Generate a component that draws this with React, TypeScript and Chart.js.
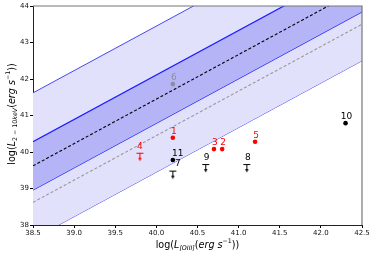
import React, { useEffect, useRef } from "react";
import { Chart, registerables } from "chart.js";

Chart.register(...registerables);

// Relation lines (endpoints at x = 38.5 and 42.5)
const lineX = [38.5, 42.5];
const relationY = [39.62, 44.5];
const innerUpperY = [40.28, 45.16];
const innerLowerY = [38.96, 43.84];
const outerUpperY = [41.62, 46.5];
const outerLowerY = [37.62, 42.5];
const altRelationY = [38.62, 43.5];

// Sources
const srcLabels = ["1", "2", "3", "4", "5", "6", "7", "8", "9", "10", "11"];
const srcX = [40.2, 40.8, 40.7, 39.8, 41.2, 40.2, 40.2, 41.1, 40.6, 42.3, 40.2];
const srcY = [40.39, 40.08, 40.08, 39.98, 40.28, 41.86, 39.49, 39.67, 39.67, 40.79, 39.78];
const srcUpperLimit = [false, false, false, true, false, false, true, true, true, false, false];
const srcGroup = ["red", "red", "red", "red", "red", "gray", "black", "black", "black", "black", "black"];

const xTickMin = 38.5;
const xTickMax = 42.5;
const xTickStep = 0.5;
const yTickMin = 38;
const yTickMax = 44;
const yTickStep = 1;

const groupColors: Record<string, string> = {
  red: "#ff0000",
  black: "#000000",
  gray: "rgba(128,128,128,0.75)",
};
const labelDx: Record<string, number> = { "7": 5, "11": 5, "4": 0 };

type Seg = { t: string; it?: boolean; s?: "sub" | "sup" };
const yTitle: Seg[] = [
  { t: "log(" },
  { t: "L", it: true },
  { t: "2 − 10", s: "sub" },
  { t: "keV", s: "sub", it: true },
  { t: "(" },
  { t: "erg s", it: true },
  { t: "−1", s: "sup" },
  { t: "))" },
];
const xTitle: Seg[] = [
  { t: "log(" },
  { t: "L", it: true },
  { t: "[OIII]", s: "sub", it: true },
  { t: "(" },
  { t: "erg s", it: true },
  { t: "−1", s: "sup" },
  { t: "))" },
];

const FAM = "'DejaVu Sans', sans-serif";

function fontFor(seg: Seg) {
  const size = seg.s ? 6.3 : 9.6;
  return `${seg.it ? "italic " : ""}${size}px ${FAM}`;
}

function drawRich(ctx: CanvasRenderingContext2D, segs: Seg[], cx: number, cy: number, rot: number) {
  ctx.save();
  ctx.translate(cx, cy);
  ctx.rotate(rot);
  let total = 0;
  const widths = segs.map((s) => {
    ctx.font = fontFor(s);
    const w = ctx.measureText(s.t).width;
    total += w;
    return w;
  });
  let x = -total / 2;
  ctx.fillStyle = "#000";
  ctx.textBaseline = "middle";
  ctx.textAlign = "left";
  segs.forEach((s, i) => {
    ctx.font = fontFor(s);
    const dy = s.s === "sub" ? 3 : s.s === "sup" ? -3.5 : 0;
    ctx.fillText(s.t, x, dy);
    x += widths[i];
  });
  ctx.restore();
}

function makeLimitMarker(color: string) {
  const c = document.createElement("canvas");
  c.width = 9;
  c.height = 20;
  const g = c.getContext("2d")!;
  g.strokeStyle = color;
  g.fillStyle = color;
  g.lineWidth = 1;
  g.beginPath();
  g.moveTo(1, 10.5);
  g.lineTo(8, 10.5);
  g.moveTo(4.5, 10.5);
  g.lineTo(4.5, 16);
  g.stroke();
  g.beginPath();
  g.moveTo(2.8, 15);
  g.lineTo(6.2, 15);
  g.lineTo(4.5, 18.5);
  g.closePath();
  g.fill();
  return c;
}

export default function App() {
  const ref = useRef<HTMLCanvasElement | null>(null);

  useEffect(() => {
    if (!ref.current) return;
    const markers: Record<string, HTMLCanvasElement> = {
      red: makeLimitMarker(groupColors.red),
      black: makeLimitMarker(groupColors.black),
      gray: makeLimitMarker(groupColors.gray),
    };
    const pts = srcX.map((x, i) => ({ x, y: srcY[i] }));
    const line = (ys: number[]) => lineX.map((x, i) => ({ x, y: ys[i] }));

    const frame = {
      id: "frame",
      afterDraw(chart: any) {
        const { ctx, chartArea: a } = chart;
        ctx.save();
        ctx.strokeStyle = "#777";
        ctx.lineWidth = 1.2;
        ctx.beginPath();
        ctx.moveTo(a.left, a.top);
        ctx.lineTo(a.right, a.top);
        ctx.lineTo(a.right, a.bottom);
        ctx.stroke();
        ctx.restore();
        drawRich(ctx, xTitle, (a.left + a.right) / 2, 245, 0);
        drawRich(ctx, yTitle, 12, 114, -Math.PI / 2);
      },
      afterDatasetsDraw(chart: any) {
        const { ctx } = chart;
        const meta = chart.getDatasetMeta(0);
        ctx.save();
        ctx.font = `9px ${FAM}`;
        ctx.textAlign = "center";
        ctx.textBaseline = "middle";
        meta.data.forEach((el: any, i: number) => {
          const lab = srcLabels[i];
          ctx.fillStyle = groupColors[srcGroup[i]];
          const dx = labelDx[lab] ?? 1;
          ctx.fillText(lab, el.x + dx, el.y - 6.5);
        });
        ctx.restore();
      },
    };

    const chart = new Chart(ref.current, {
      type: "scatter",
      data: {
        datasets: [
          {
            data: pts,
            order: 0,
            pointStyle: srcUpperLimit.map((u, i) => (u ? markers[srcGroup[i]] : "circle")) as any,
            pointRadius: 2.3,
            pointBackgroundColor: srcGroup.map((g) => groupColors[g]),
            pointBorderColor: srcGroup.map((g) => groupColors[g]),
            pointBorderWidth: 0,
          },
          {
            data: line(relationY),
            showLine: true,
            order: 1,
            pointRadius: 0,
            borderColor: "#000",
            borderWidth: 1.1,
            borderDash: [3, 2],
          },
          {
            data: line(altRelationY),
            showLine: true,
            order: 1,
            pointRadius: 0,
            borderColor: "#999",
            borderWidth: 1.1,
            borderDash: [3, 2],
          },
          {
            data: line(innerUpperY),
            showLine: true,
            order: 2,
            pointRadius: 0,
            borderColor: "#1a1aff",
            borderWidth: 1.2,
            fill: { target: 4 },
            backgroundColor: "rgb(180,180,247)",
          },
          {
            data: line(innerLowerY),
            showLine: true,
            order: 2,
            pointRadius: 0,
            borderColor: "#1a1aff",
            borderWidth: 1.2,
          },
          {
            data: line(outerUpperY),
            showLine: true,
            order: 3,
            pointRadius: 0,
            borderColor: "#4848f0",
            borderWidth: 1,
            fill: { target: 6 },
            backgroundColor: "rgb(225,225,251)",
          },
          {
            data: line(outerLowerY),
            showLine: true,
            order: 3,
            pointRadius: 0,
            borderColor: "#4848f0",
            borderWidth: 1,
          },
        ],
      },
      options: {
        animation: false,
        responsive: true,
        maintainAspectRatio: false,
        layout: { padding: { top: 6, right: 12, left: 0, bottom: 0 } },
        plugins: { legend: { display: false }, tooltip: { enabled: false } },
        scales: {
          x: {
            type: "linear",
            min: xTickMin,
            max: xTickMax,
            afterFit: (s: any) => {
              s.height = 32;
            },
            ticks: {
              stepSize: xTickStep,
              padding: 1,
              color: "#111",
              font: { family: FAM, size: 7 },
              callback: (v: any) => Number(v).toFixed(1),
            },
            grid: { drawOnChartArea: false, drawTicks: true, tickLength: 3, color: "#000" },
            border: { display: true, color: "#222", width: 1 },
          },
          y: {
            type: "linear",
            min: yTickMin,
            max: yTickMax,
            afterFit: (s: any) => {
              s.width = 33;
            },
            ticks: {
              stepSize: yTickStep,
              padding: 1,
              color: "#111",
              font: { family: FAM, size: 7 },
              callback: (v: any) => String(v),
            },
            grid: { drawOnChartArea: false, drawTicks: true, tickLength: 3, color: "#000" },
            border: { display: true, color: "#222", width: 1 },
          },
        },
      },
      plugins: [frame],
    });
    return () => chart.destroy();
  }, []);

  return (
    <div style={{ position: "absolute", left: 0, top: 0, width: 374, height: 257 }}>
      <canvas ref={ref} />
    </div>
  );
}
